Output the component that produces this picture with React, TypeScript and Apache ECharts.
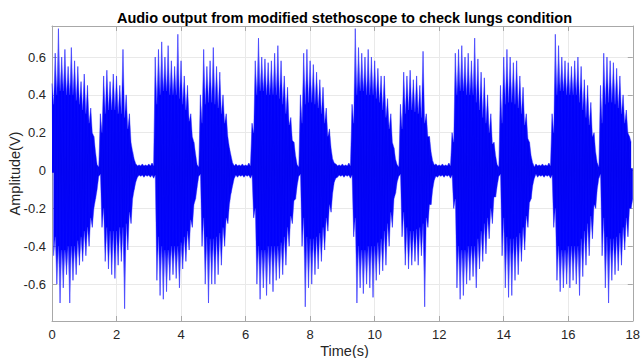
import React, { useEffect, useRef } from 'react';
import * as echarts from 'echarts';

// Envelope of the recorded waveform, read per 0.1 s bin (t = i * 0.1 s)
const binStep = 0.1;

// highest positive excursion in each bin (V)
const peakHigh = [
  0.46, 0.62, 0.75, 0.60, 0.64, 0.55, 0.65, 0.58, 0.55, 0.47, 0.51, 0.45, 0.33, 0.18, 0.03,
  0.30, 0.50, 0.53, 0.47, 0.51, 0.50, 0.45, 0.64, 0.40, 0.30, 0.10,
  0.035, 0.03, 0.035, 0.03, 0.035, 0.04,
  0.60, 0.64, 0.68, 0.60, 0.66, 0.58, 0.55, 0.72, 0.58, 0.50, 0.45, 0.30, 0.15, 0.03,
  0.40, 0.64, 0.55, 0.58, 0.65, 0.55, 0.52, 0.40, 0.30, 0.12,
  0.04, 0.035, 0.03, 0.035, 0.03, 0.04,
  0.25, 0.58, 0.70, 0.60, 0.59, 0.57, 0.58, 0.62, 0.66, 0.58, 0.50, 0.44, 0.28, 0.15, 0.03,
  0.40, 0.62, 0.64, 0.58, 0.56, 0.52, 0.48, 0.44, 0.33, 0.22, 0.06,
  0.035, 0.03, 0.035, 0.03, 0.04,
  0.35, 0.75, 0.65, 0.62, 0.60, 0.64, 0.60, 0.58, 0.54, 0.50, 0.50, 0.38, 0.30, 0.12, 0.03,
  0.35, 0.52, 0.50, 0.53, 0.48, 0.50, 0.45, 0.63, 0.30, 0.18, 0.05,
  0.035, 0.03, 0.035, 0.03, 0.04,
  0.20, 0.62, 0.64, 0.66, 0.60, 0.62, 0.58, 0.70, 0.59, 0.52, 0.49, 0.40, 0.30, 0.15, 0.03,
  0.45, 0.60, 0.64, 0.60, 0.57, 0.58, 0.50, 0.44, 0.30, 0.15, 0.04,
  0.035, 0.03, 0.035, 0.03, 0.04,
  0.30, 0.72, 0.66, 0.60, 0.58, 0.57, 0.55, 0.58, 0.60, 0.55, 0.48, 0.45, 0.36, 0.20, 0.04,
  0.45, 0.62, 0.60, 0.58, 0.57, 0.54, 0.50, 0.40, 0.32, 0.18,
];

// deepest negative excursion in each bin (V)
const peakLow = [
  -0.45, -0.60, -0.70, -0.62, -0.55, -0.70, -0.58, -0.55, -0.50, -0.48, -0.45, -0.40, -0.30, -0.15, -0.03,
  -0.30, -0.48, -0.52, -0.55, -0.57, -0.50, -0.48, -0.73, -0.42, -0.28, -0.10,
  -0.035, -0.03, -0.035, -0.03, -0.035, -0.04,
  -0.58, -0.66, -0.68, -0.64, -0.58, -0.55, -0.57, -0.62, -0.52, -0.48, -0.42, -0.30, -0.15, -0.03,
  -0.40, -0.60, -0.70, -0.60, -0.60, -0.55, -0.50, -0.40, -0.28, -0.12,
  -0.04, -0.035, -0.03, -0.035, -0.03, -0.04,
  -0.25, -0.60, -0.68, -0.62, -0.66, -0.60, -0.64, -0.58, -0.57, -0.55, -0.50, -0.40, -0.28, -0.15, -0.03,
  -0.40, -0.72, -0.62, -0.60, -0.55, -0.52, -0.48, -0.42, -0.32, -0.22, -0.06,
  -0.035, -0.03, -0.035, -0.03, -0.04,
  -0.35, -0.70, -0.62, -0.65, -0.60, -0.62, -0.67, -0.58, -0.55, -0.53, -0.50, -0.40, -0.30, -0.12, -0.03,
  -0.35, -0.50, -0.52, -0.50, -0.48, -0.50, -0.45, -0.72, -0.30, -0.18, -0.05,
  -0.035, -0.03, -0.035, -0.03, -0.04,
  -0.20, -0.62, -0.68, -0.66, -0.60, -0.58, -0.56, -0.62, -0.52, -0.48, -0.44, -0.36, -0.28, -0.14, -0.03,
  -0.45, -0.62, -0.67, -0.66, -0.58, -0.55, -0.48, -0.42, -0.30, -0.15, -0.04,
  -0.035, -0.03, -0.035, -0.03, -0.04,
  -0.30, -0.58, -0.64, -0.62, -0.60, -0.62, -0.58, -0.60, -0.66, -0.56, -0.50, -0.45, -0.36, -0.20, -0.04,
  -0.45, -0.62, -0.70, -0.58, -0.55, -0.53, -0.50, -0.42, -0.35, -0.20,
];

// amplitude of the dense (dark) body of the signal in each bin (V)
const coreAmp = [
  0.35, 0.40, 0.42, 0.42, 0.40, 0.40, 0.40, 0.37, 0.35, 0.32, 0.30, 0.25, 0.20, 0.10, 0.02,
  0.20, 0.30, 0.32, 0.32, 0.32, 0.30, 0.30, 0.28, 0.22, 0.15, 0.06,
  0.025, 0.025, 0.025, 0.025, 0.025, 0.025,
  0.35, 0.40, 0.42, 0.42, 0.40, 0.40, 0.40, 0.38, 0.35, 0.32, 0.26, 0.18, 0.09, 0.02,
  0.25, 0.35, 0.36, 0.36, 0.35, 0.33, 0.30, 0.25, 0.18, 0.08,
  0.025, 0.025, 0.025, 0.025, 0.025, 0.025,
  0.20, 0.40, 0.42, 0.42, 0.40, 0.40, 0.40, 0.40, 0.38, 0.35, 0.30, 0.24, 0.16, 0.08, 0.02,
  0.25, 0.35, 0.36, 0.36, 0.35, 0.33, 0.30, 0.25, 0.18, 0.12, 0.04,
  0.025, 0.025, 0.025, 0.025, 0.025,
  0.25, 0.40, 0.42, 0.42, 0.40, 0.40, 0.40, 0.38, 0.36, 0.32, 0.28, 0.22, 0.15, 0.06, 0.02,
  0.22, 0.30, 0.32, 0.32, 0.31, 0.30, 0.28, 0.25, 0.18, 0.10, 0.03,
  0.025, 0.025, 0.025, 0.025, 0.025,
  0.15, 0.40, 0.42, 0.42, 0.40, 0.40, 0.40, 0.36, 0.32, 0.28, 0.25, 0.20, 0.14, 0.08, 0.02,
  0.25, 0.35, 0.36, 0.36, 0.35, 0.33, 0.30, 0.24, 0.17, 0.08, 0.02,
  0.025, 0.025, 0.025, 0.025, 0.025,
  0.20, 0.40, 0.42, 0.42, 0.40, 0.40, 0.40, 0.40, 0.36, 0.32, 0.28, 0.24, 0.18, 0.10, 0.02,
  0.25, 0.35, 0.36, 0.36, 0.35, 0.33, 0.30, 0.25, 0.20, 0.15,
];

const xMin = 0;
const xMax = 18;
const xInterval = 2;
const yMin = -0.795;
const yMax = 0.764;
const yTicks = [-0.6, -0.4, -0.2, 0, 0.2, 0.4, 0.6];

const titleText = 'Audio output from modified stethoscope to check lungs condition';
const xName = 'Time(s)';
const yName = 'Amplitude(V)';

const FONT = 'Liberation Sans, Arial, Helvetica, sans-serif';
const frameColor = '#a8a8a8';
const gridColor = '#e9e9e9';
const labelColor = '#262626';

export default function App() {
  const ref = useRef<HTMLDivElement>(null);

  useEffect(() => {
    if (!ref.current) return;
    const chart = echarts.init(ref.current, null, { renderer: 'svg' });

    // upper half: spike tips at the bin peaks, valleys at the dense-body level
    const upper: number[][] = [];
    const lower: number[][] = [];
    peakHigh.forEach((v, i) => {
      const t = i * binStep;
      upper.push([t, v]);
      upper.push([t + binStep / 2, coreAmp[i]]);
      lower.push([t + binStep / 2, peakLow[i]]);
      lower.push([t + binStep, -coreAmp[i]]);
    });
    // full trace for fine line texture
    const wave: number[][] = [];
    peakHigh.forEach((v, i) => {
      const t = i * binStep;
      wave.push([t, v]);
      wave.push([t + binStep / 2, peakLow[i]]);
    });

    const tickStyle = { color: frameColor, width: 1 };

    const upGrad = new echarts.graphic.LinearGradient(0, 0, 0, 1, [
      { offset: 0, color: 'rgba(150,150,255,0.6)' },
      { offset: 0.22, color: 'rgba(80,80,255,0.85)' },
      { offset: 0.42, color: 'rgba(0,0,255,1)' },
      { offset: 1, color: 'rgba(0,0,240,1)' },
    ]);
    const lowGrad = new echarts.graphic.LinearGradient(0, 0, 0, 1, [
      { offset: 0, color: 'rgba(0,0,240,1)' },
      { offset: 0.58, color: 'rgba(0,0,255,1)' },
      { offset: 0.78, color: 'rgba(80,80,255,0.85)' },
      { offset: 1, color: 'rgba(150,150,255,0.6)' },
    ]);

    chart.setOption({
      animation: false,
      grid: { left: 52, right: 6, top: 26, bottom: 37, containLabel: false },
      xAxis: [
        {
          type: 'value',
          min: xMin,
          max: xMax,
          interval: xInterval,
          axisLine: { show: true, onZero: false, lineStyle: tickStyle },
          axisTick: { show: true, inside: true, length: 5, lineStyle: tickStyle },
          axisLabel: { fontSize: 13, color: labelColor, margin: 7, fontFamily: FONT },
          splitLine: { show: true, lineStyle: { color: gridColor, width: 1 } },
        },
        {
          type: 'value',
          position: 'top',
          min: xMin,
          max: xMax,
          interval: xInterval,
          axisLine: { show: true, onZero: false, lineStyle: tickStyle },
          axisTick: { show: true, inside: true, length: 5, lineStyle: tickStyle },
          axisLabel: { show: false },
          splitLine: { show: false },
        },
      ],
      yAxis: [
        {
          type: 'value',
          min: yMin,
          max: yMax,
          axisLine: { show: true, onZero: false, lineStyle: tickStyle },
          axisTick: { show: true, inside: true, length: 5, lineStyle: tickStyle, customValues: yTicks },
          axisLabel: { fontSize: 13, color: labelColor, margin: 6, fontFamily: FONT, customValues: yTicks },
          splitLine: { show: true, lineStyle: { color: gridColor, width: 1 } },
        },
        {
          type: 'value',
          position: 'right',
          min: yMin,
          max: yMax,
          axisLine: { show: true, onZero: false, lineStyle: tickStyle },
          axisTick: { show: true, inside: true, length: 5, lineStyle: tickStyle, customValues: yTicks },
          axisLabel: { show: false, customValues: yTicks },
          splitLine: { show: false },
        },
      ],
      series: [
        {
          type: 'line',
          data: upper,
          showSymbol: false,
          symbol: 'none',
          lineStyle: { color: 'rgba(70,70,255,0.55)', width: 0.8 },
          areaStyle: { color: upGrad, opacity: 1, origin: -0.012 },
          z: 2,
          silent: true,
        },
        {
          type: 'line',
          data: lower,
          showSymbol: false,
          symbol: 'none',
          lineStyle: { color: 'rgba(70,70,255,0.55)', width: 0.8 },
          areaStyle: { color: lowGrad, opacity: 1, origin: 0.012 },
          z: 2,
          silent: true,
        },
        {
          type: 'line',
          data: wave,
          showSymbol: false,
          symbol: 'none',
          lineStyle: { color: 'rgba(20,20,255,0.4)', width: 0.7 },
          z: 3,
          silent: true,
        },
      ],
      graphic: [
        {
          type: 'text',
          x: 344.5,
          y: 18,
          style: {
            text: titleText,
            fill: '#000000',
            font: `bold 14.5px ${FONT}`,
            textAlign: 'center',
            textVerticalAlign: 'middle',
          },
        },
        {
          type: 'text',
          x: 344.5,
          y: 351,
          style: {
            text: xName,
            fill: labelColor,
            font: `14.5px ${FONT}`,
            textAlign: 'center',
            textVerticalAlign: 'middle',
          },
        },
        {
          type: 'text',
          x: 15,
          y: 173.5,
          rotation: Math.PI / 2,
          style: {
            text: yName,
            fill: labelColor,
            font: `14.5px ${FONT}`,
            textAlign: 'center',
            textVerticalAlign: 'middle',
          },
        },
      ],
    });

    return () => {
      chart.dispose();
    };
  }, []);

  return (
    <div
      ref={ref}
      style={{ position: 'fixed', left: 0, top: 0, width: 643, height: 358, background: '#ffffff' }}
    />
  );
}
